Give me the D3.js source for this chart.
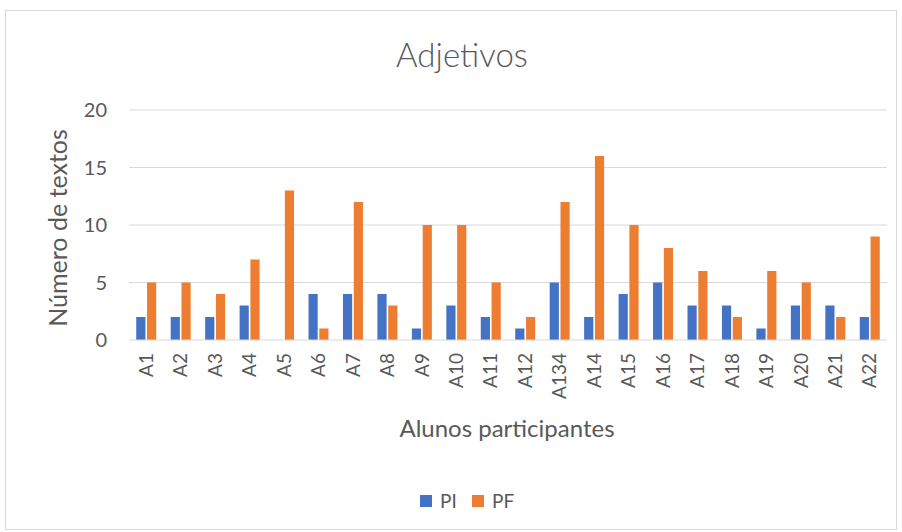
<!DOCTYPE html>
<html>
<head>
<meta charset="UTF-8">
<script src="https://cdn.jsdelivr.net/npm/d3@7"></script>
<style>
  body { margin: 0; background: #fff; }
  text { font-family: Lato, "Open Sans", sans-serif; fill: #595959; }
</style>
</head>
<body>
<svg width="902" height="532"></svg>
<script>
var alunos = ["A1","A2","A3","A4","A5","A6","A7","A8","A9","A10","A11","A12","A134","A14","A15","A16","A17","A18","A19","A20","A21","A22"];
var pi = [2,2,2,3,0,4,4,4,1,3,2,1,5,2,4,5,3,3,1,3,3,2];
var pf = [5,5,4,7,13,1,12,3,10,10,5,2,12,16,10,8,6,2,6,5,2,9];
var yTicks = [0,5,10,15,20];
var series = [
  { name: "PI", values: pi, color: "#4472C4" },
  { name: "PF", values: pf, color: "#ED7D31" }
];

var svg = d3.select("svg");
var plotLeft = 129, plotRight = 887, plotTop = 110, plotBottom = 340;

svg.append("rect")
  .attr("x", 5.5).attr("y", 10.5)
  .attr("width", 891).attr("height", 519)
  .attr("fill", "#fff").attr("stroke", "#d9d9d9");

var x = d3.scaleBand().domain(alunos).range([plotLeft, plotRight]).paddingInner(0.42).paddingOuter(0.21);
var xs = d3.scaleBand().domain(["PI","PF"]).range([0, x.bandwidth()]).paddingInner(0.15);
var y = d3.scaleLinear().domain([0, 20]).range([plotBottom, plotTop]);

// gridlines
svg.append("g").selectAll("line")
  .data(yTicks.filter(function(d) { return d > 0; }))
  .enter().append("line")
    .attr("x1", plotLeft).attr("x2", plotRight)
    .attr("y1", function(d) { return y(d); })
    .attr("y2", function(d) { return y(d); })
    .attr("stroke", "#d9d9d9").attr("stroke-width", 1);

// bars
series.forEach(function(s) {
  svg.append("g").selectAll("rect")
    .data(s.values)
    .enter().append("rect")
      .attr("x", function(d, i) { return x(alunos[i]) + xs(s.name); })
      .attr("y", function(d) { return y(d); })
      .attr("width", xs.bandwidth())
      .attr("height", function(d) { return y(0) - y(d); })
      .attr("fill", s.color);
});

// x axis line
svg.append("line")
  .attr("x1", plotLeft).attr("x2", plotRight)
  .attr("y1", y(0)).attr("y2", y(0))
  .attr("stroke", "#d9d9d9").attr("stroke-width", 1);

// y tick labels
svg.append("g").selectAll("text")
  .data(yTicks)
  .enter().append("text")
    .attr("x", 107).attr("y", function(d) { return y(d); })
    .attr("dy", "0.35em")
    .attr("text-anchor", "end")
    .style("font-size", "20px")
    .text(function(d) { return d; });

// x tick labels
svg.append("g").selectAll("text")
  .data(alunos)
  .enter().append("text")
    .attr("transform", function(d) {
      return "translate(" + (x(d) + x.bandwidth() / 2) + "," + (y(0) + 13) + ") rotate(-90)";
    })
    .attr("dy", "0.35em")
    .attr("text-anchor", "end")
    .style("font-size", "19px")
    .text(function(d) { return d; });

// title
svg.append("text")
  .attr("x", 462).attr("y", 67)
  .attr("text-anchor", "middle")
  .style("font-size", "33px")
  .style("font-weight", "300")
  .text("Adjetivos");

// axis titles
svg.append("text")
  .attr("transform", "translate(67,228) rotate(-90)")
  .attr("text-anchor", "middle")
  .style("font-size", "25px")
  .text("Número de textos");

svg.append("text")
  .attr("x", 507).attr("y", 437)
  .attr("text-anchor", "middle")
  .style("font-size", "24px")
  .text("Alunos participantes");

// legend
var leg = svg.append("g");
var lx = [420, 472];
series.forEach(function(s, i) {
  leg.append("rect")
    .attr("x", lx[i]).attr("y", 495)
    .attr("width", 12).attr("height", 12)
    .attr("fill", s.color);
  leg.append("text")
    .attr("x", lx[i] + 20).attr("y", 508)
    .style("font-size", "19px")
    .text(s.name);
});
</script>
</body>
</html>
